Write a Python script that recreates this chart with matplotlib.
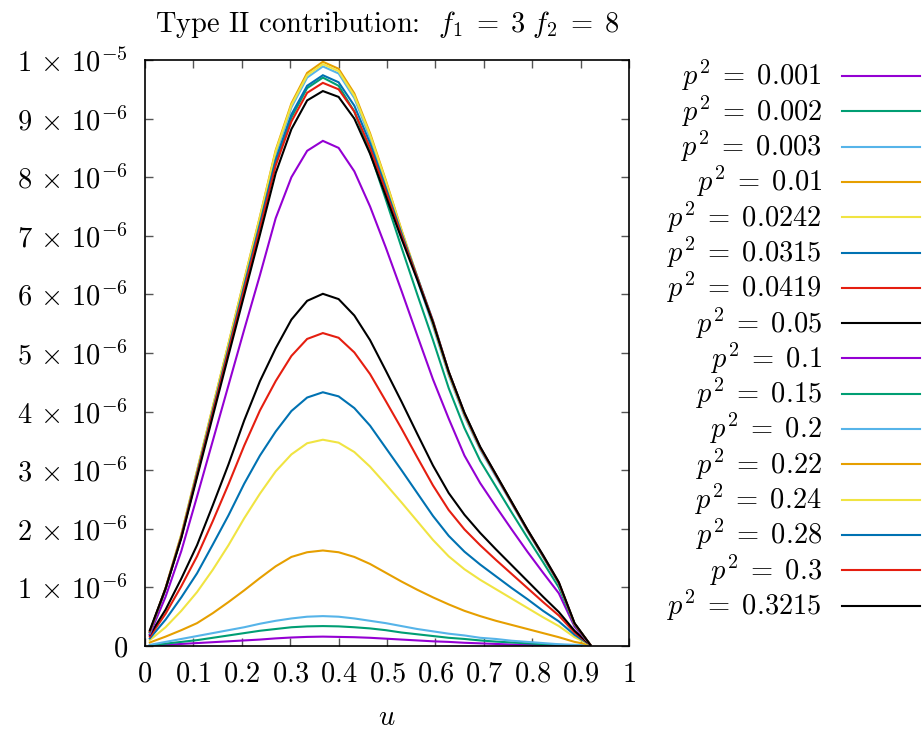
import numpy as np
import matplotlib
matplotlib.use("Agg")
import matplotlib.pyplot as plt
from matplotlib.lines import Line2D

plt.rcParams['mathtext.fontset'] = 'cm'
plt.rcParams['font.family'] = 'cmr10'
plt.rcParams['axes.formatter.use_mathtext'] = True

# Data (values in units of 1e-6)
u = [0.01, 0.0425, 0.075, 0.1075, 0.14, 0.1725, 0.205, 0.2375, 0.27, 0.3025,
     0.335, 0.3675, 0.4, 0.4325, 0.465, 0.4975, 0.53, 0.5625, 0.595, 0.6275,
     0.66, 0.6925, 0.725, 0.7575, 0.79, 0.8225, 0.855, 0.8875, 0.92]

p2_labels = ["0.001", "0.002", "0.003", "0.01", "0.0242", "0.0315", "0.0419", "0.05",
             "0.1", "0.15", "0.2", "0.22", "0.24", "0.28", "0.3", "0.3215"]

c_0001 = [0.0, 0.02, 0.035, 0.05, 0.065, 0.08, 0.095, 0.11, 0.13, 0.145, 0.155, 0.16, 0.155, 0.15,
          0.14, 0.125, 0.11, 0.095, 0.08, 0.07, 0.055, 0.045, 0.035, 0.025, 0.02, 0.015, 0.01, 0.005, 0.0]
c_0002 = [0.01, 0.04, 0.07, 0.10, 0.14, 0.18, 0.22, 0.26, 0.29, 0.32, 0.335, 0.34, 0.335, 0.32,
          0.30, 0.27, 0.23, 0.20, 0.17, 0.14, 0.12, 0.095, 0.075, 0.06, 0.045, 0.03, 0.02, 0.01, 0.005]
c_0003 = [0.02, 0.07, 0.12, 0.17, 0.22, 0.27, 0.32, 0.38, 0.43, 0.47, 0.50, 0.51, 0.50, 0.47,
          0.43, 0.39, 0.34, 0.29, 0.25, 0.21, 0.18, 0.14, 0.12, 0.09, 0.07, 0.05, 0.03, 0.02, 0.01]
c_001 = [0.06, 0.16, 0.27, 0.39, 0.56, 0.75, 0.95, 1.16, 1.36, 1.52, 1.60, 1.63, 1.60, 1.52,
         1.40, 1.25, 1.10, 0.96, 0.83, 0.71, 0.60, 0.51, 0.43, 0.36, 0.29, 0.22, 0.15, 0.07, 0.02]
c_00242 = [0.10, 0.32, 0.60, 0.92, 1.30, 1.72, 2.18, 2.60, 2.98, 3.27, 3.46, 3.52, 3.47, 3.31,
           3.06, 2.76, 2.45, 2.13, 1.81, 1.53, 1.31, 1.13, 0.97, 0.81, 0.65, 0.49, 0.34, 0.15, 0.02]
c_00315 = [0.13, 0.45, 0.83, 1.24, 1.73, 2.23, 2.77, 3.25, 3.66, 4.01, 4.24, 4.33, 4.26, 4.06,
           3.76, 3.38, 3.00, 2.61, 2.22, 1.88, 1.61, 1.39, 1.19, 0.99, 0.80, 0.60, 0.42, 0.19, 0.02]
c_00419 = [0.16, 0.55, 1.02, 1.53, 2.13, 2.76, 3.42, 4.02, 4.52, 4.95, 5.24, 5.34, 5.26, 5.01,
           4.64, 4.18, 3.71, 3.22, 2.74, 2.32, 1.99, 1.72, 1.47, 1.23, 0.99, 0.75, 0.52, 0.23, 0.02]
c_005 = [0.19, 0.62, 1.15, 1.72, 2.40, 3.10, 3.85, 4.52, 5.08, 5.57, 5.89, 6.01, 5.92, 5.64,
         5.22, 4.70, 4.17, 3.62, 3.08, 2.61, 2.24, 1.93, 1.65, 1.38, 1.11, 0.84, 0.58, 0.26, 0.02]
c_01 = [0.20, 0.84, 1.62, 2.55, 3.50, 4.45, 5.40, 6.33, 7.30, 8.00, 8.45, 8.62, 8.50, 8.10,
        7.50, 6.80, 6.06, 5.30, 4.55, 3.88, 3.25, 2.78, 2.38, 1.99, 1.61, 1.25, 0.90, 0.33, 0.02]
c_015 = [0.23, 0.97, 1.86, 2.92, 3.99, 5.05, 6.10, 7.16, 8.25, 9.02, 9.52, 9.70, 9.56, 9.12,
         8.42, 7.62, 6.80, 6.00, 5.22, 4.40, 3.72, 3.16, 2.72, 2.28, 1.85, 1.43, 1.00, 0.36, 0.02]
c_02 = [0.23, 0.98, 1.89, 2.97, 4.05, 5.13, 6.21, 7.28, 8.40, 9.19, 9.70, 9.89, 9.77, 9.35,
        8.67, 7.88, 7.04, 6.25, 5.46, 4.62, 3.92, 3.35, 2.89, 2.43, 1.96, 1.52, 1.06, 0.38, 0.02]
c_022 = [0.24, 0.99, 1.90, 2.99, 4.08, 5.16, 6.25, 7.33, 8.46, 9.26, 9.78, 9.97, 9.85, 9.43,
         8.75, 7.95, 7.10, 6.30, 5.50, 4.65, 3.95, 3.38, 2.92, 2.45, 1.98, 1.53, 1.07, 0.38, 0.02]
c_024 = [0.24, 0.99, 1.90, 2.99, 4.08, 5.16, 6.24, 7.32, 8.44, 9.23, 9.74, 9.93, 9.81, 9.39,
         8.72, 7.93, 7.09, 6.30, 5.52, 4.67, 3.96, 3.38, 2.92, 2.45, 1.98, 1.53, 1.07, 0.38, 0.02]
c_028 = [0.24, 0.98, 1.87, 2.95, 4.02, 5.08, 6.15, 7.21, 8.30, 9.07, 9.56, 9.74, 9.62, 9.22,
         8.58, 7.82, 7.04, 6.30, 5.55, 4.68, 3.97, 3.39, 2.92, 2.45, 1.98, 1.53, 1.07, 0.38, 0.02]
c_03 = [0.25, 0.98, 1.86, 2.92, 3.98, 5.03, 6.08, 7.13, 8.20, 8.95, 9.44, 9.61, 9.50, 9.12,
        8.50, 7.76, 7.00, 6.28, 5.54, 4.68, 3.97, 3.39, 2.92, 2.45, 1.98, 1.54, 1.08, 0.38, 0.02]
c_03215 = [0.27, 0.98, 1.84, 2.88, 3.92, 4.96, 5.99, 7.02, 8.07, 8.82, 9.31, 9.47, 9.37, 9.00,
           8.40, 7.68, 6.95, 6.25, 5.52, 4.68, 3.98, 3.40, 2.93, 2.46, 1.99, 1.55, 1.09, 0.39, 0.02]

series = [c_0001, c_0002, c_0003, c_001, c_00242, c_00315, c_00419, c_005,
          c_01, c_015, c_02, c_022, c_024, c_028, c_03, c_03215]

# gnuplot default line colours
colors = ['#9400d3', '#009e73', '#56b4e9', '#e69f00', '#f0e442', '#0072b2', '#e51e10', '#000000']

x_ticks = [0, 0.1, 0.2, 0.3, 0.4, 0.5, 0.6, 0.7, 0.8, 0.9, 1]
x_tick_labels = ["$0$", "$0.1$", "$0.2$", "$0.3$", "$0.4$", "$0.5$", "$0.6$", "$0.7$", "$0.8$", "$0.9$", "$1$"]
y_ticks = [0, 1e-6, 2e-6, 3e-6, 4e-6, 5e-6, 6e-6, 7e-6, 8e-6, 9e-6, 1e-5]
y_tick_labels = ["$0$"] + [r"$%d\,\times\,10^{-6}$" % i for i in range(1, 10)] + [r"$1\,\times\,10^{-5}$"]

fs = 20.5

fig = plt.figure(figsize=(9.24, 7.35), dpi=100)
ax = fig.add_axes([145 / 924, 1 - 646 / 735, 484 / 924, 586 / 735])

for i, vals in enumerate(series):
    ax.plot(u, np.array(vals) * 1e-6, color=colors[i % 8], lw=1.5, solid_joinstyle='miter')

ax.set_xlim(0, 1)
ax.set_ylim(0, 1e-5)
ax.set_xticks(x_ticks)
ax.set_xticklabels(x_tick_labels, fontsize=fs)
ax.set_yticks(y_ticks)
ax.set_yticklabels(y_tick_labels, fontsize=fs)
ax.tick_params(direction='in', length=6, width=1.0, top=True, right=True, color='#555555')
ax.tick_params(axis='x', pad=11)
ax.tick_params(axis='y', pad=12)
for sp in ax.spines.values():
    sp.set_linewidth(1.2)

ax.set_xlabel("$u$", fontsize=fs, labelpad=12)
ax.set_title(r"Type II contribution:  $f_1\;=\;3\ f_2\;=\;8$", fontsize=fs, pad=20)

# gnuplot-style key: right-aligned text, line sample to the right
y0 = 76
dy = 35.3
for i, lab in enumerate(p2_labels):
    yy = 1 - (y0 + i * dy) / 735
    fig.text(822 / 924, yy, r"$p^2\;=\;%s$" % lab, fontsize=fs, ha='right', va='center')
    fig.add_artist(Line2D([842 / 924, 920 / 924], [yy, yy], color=colors[i % 8], lw=1.5))

fig.savefig("out.png", dpi=100)
